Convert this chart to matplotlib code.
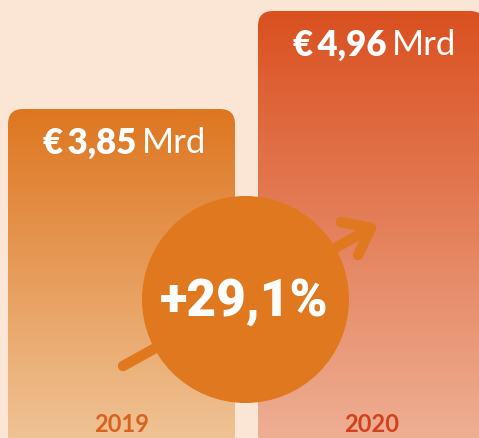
import numpy as np
import matplotlib
matplotlib.use("Agg")
import matplotlib.pyplot as plt
from matplotlib.patches import FancyBboxPatch, Circle
from matplotlib.colors import LinearSegmentedColormap

years = ["2019", "2020"]
revenue = [3.85, 4.96]          # € Mrd
value_labels = ["3,85", "4,96"]
growth_label = "+29,1%"

bg = "#fbe5d5"
top_cols = ["#de7620", "#da5020"]
bot_cols = ["#f0c598", "#efb196"]
year_cols = ["#d9621f", "#d2401c"]
circle_col = "#df781e"

W, H = 479, 439
fig = plt.figure(figsize=(W / 100, H / 100), dpi=100, facecolor=bg)
ax = fig.add_axes([0, 0, 1, 1])
ax.set_facecolor(bg)
ax.set_xlim(0, W)
ax.set_ylim(0.125, 5.096)
ax.axis("off")

# y units per pixel vs x units per pixel
aspect = (5.096 - 0.125) / H
centers = [121.5, 371.5]
bw = 227
for i, v in enumerate(revenue):
    x0 = centers[i] - bw / 2
    patch = FancyBboxPatch((x0, 0), bw, v,
                           boxstyle="round,pad=0,rounding_size=15",
                           mutation_aspect=aspect,
                           facecolor="none", edgecolor="none")
    ax.add_patch(patch)
    cmap = LinearSegmentedColormap.from_list("g%d" % i, [bot_cols[i], top_cols[i]])
    grad = np.linspace(0, 1, 256).reshape(-1, 1)
    im = ax.imshow(grad, cmap=cmap, origin="lower", aspect="auto",
                   extent=[x0, x0 + bw, 0, v], zorder=1)
    im.set_clip_path(patch)
    # value label near bar top
    ytxt = v - 33 * aspect
    ax.text(centers[i] + 15, ytxt, "€\u2009" + value_labels[i], ha="right", va="center",
            fontsize=25, fontweight="heavy", color="white", family="Lato", zorder=3)
    ax.text(centers[i] + 20, ytxt, "Mrd", ha="left", va="center",
            fontsize=25, color="white", family="Lato", zorder=3)
    ax.text(centers[i], 0.125 + 14 * aspect, years[i], ha="center", va="center",
            fontsize=17, fontweight="bold", color=year_cols[i], family="Lato", zorder=3)

# overlay in pixel coordinates for circle + arrow
deco = fig.add_axes([0, 0, 1, 1])
deco.set_xlim(0, W)
deco.set_ylim(H, 0)
deco.axis("off")
deco.patch.set_alpha(0)

lw = 7.5
deco.plot([123, 371], [367, 229], color=circle_col, lw=lw, solid_capstyle="round", zorder=1)
deco.plot([341, 371, 358], [223, 229, 256], color=circle_col, lw=lw,
          solid_capstyle="round", solid_joinstyle="round", zorder=1)
deco.add_patch(Circle((245.5, 300.5), 103.5, facecolor=circle_col, edgecolor="none", zorder=2))
deco.text(244, 302, growth_label, ha="center", va="center", fontsize=37,
          fontweight="heavy", color="white", family="Roboto", zorder=3)

fig.savefig("out.png", dpi=100, facecolor=bg)
